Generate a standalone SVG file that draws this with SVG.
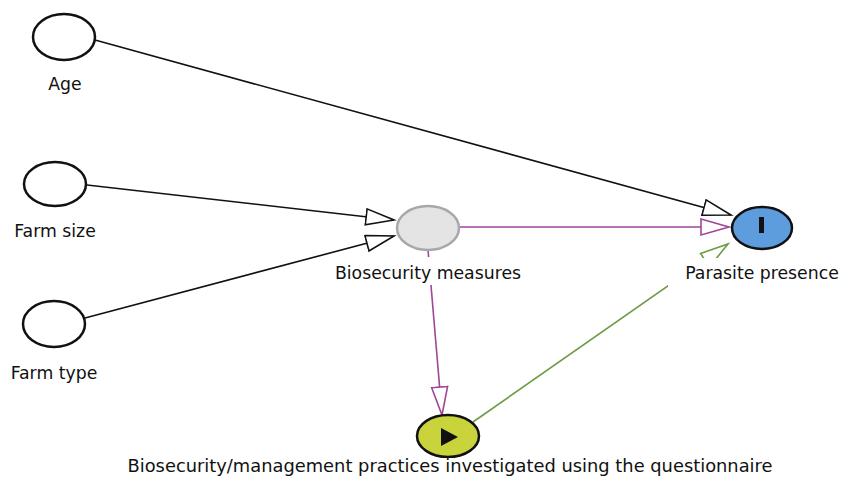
<svg xmlns="http://www.w3.org/2000/svg" width="841" height="498" viewBox="0 0 841 498">
<defs>
<style>
.lbl{font-family:"DejaVu Sans","Liberation Sans",sans-serif;font-size:17.3px;fill:#111;text-anchor:middle}
.bg{fill:#fff}
.node{stroke:#111;stroke-width:2.5}
.e{fill:none;stroke-width:1.6}
.blk{stroke:#111}
.pur{stroke:#a0459a}
.grn{stroke:#6f9a45}
</style>
<marker id="aBlk" markerUnits="userSpaceOnUse" markerWidth="32" markerHeight="20" refX="29" refY="9" orient="auto" viewBox="0 0 32 20">
<path d="M1,1 L29,9 L1,17 Z" fill="#fff" stroke="#111" stroke-width="1.6"/>
</marker>
<marker id="aPur" markerUnits="userSpaceOnUse" markerWidth="32" markerHeight="20" refX="29" refY="9" orient="auto" viewBox="0 0 32 20">
<path d="M1,1 L29,9 L1,17 Z" fill="#fff" stroke="#a0459a" stroke-width="1.6"/>
</marker>
<marker id="aGrn" markerUnits="userSpaceOnUse" markerWidth="32" markerHeight="20" refX="29" refY="9" orient="auto" viewBox="0 0 32 20">
<path d="M1,1 L29,9 L1,17 Z" fill="#fff" stroke="#6f9a45" stroke-width="1.6"/>
</marker>
</defs>
<rect width="841" height="498" fill="#fff"/>
<g id="connectors">
<path class="e blk" d="M95,40 L731,215" marker-end="url(#aBlk)"/>
<path class="e blk" d="M87,185 L394,220" marker-end="url(#aBlk)"/>
<path class="e blk" d="M85,318 L394,236" marker-end="url(#aBlk)"/>
<path class="e pur" d="M460,227 L729,227" marker-end="url(#aPur)"/>
<path class="e pur" d="M428,250 L442,415" marker-end="url(#aPur)"/>
<path class="e grn" d="M473,422 L728,244" marker-end="url(#aGrn)"/>
</g>
<g id="age">
<ellipse class="node" cx="64" cy="37" rx="31" ry="23" fill="#fff"/>
<text class="lbl" x="65" y="90">Age</text>
</g>
<g id="farm-size">
<ellipse class="node" cx="55" cy="184" rx="31" ry="22" fill="#fff"/>
<text class="lbl" x="55" y="237">Farm size</text>
</g>
<g id="farm-type">
<ellipse class="node" cx="54" cy="324" rx="31" ry="23" fill="#fff"/>
<text class="lbl" x="54" y="379">Farm type</text>
</g>
<g id="biosecurity">
<ellipse cx="428" cy="228" rx="31" ry="22" fill="#e4e4e4" stroke="#a8a8a8" stroke-width="2.5"/>
<rect class="bg" x="328" y="257" width="200" height="28"/>
<text class="lbl" x="428" y="279">Biosecurity measures</text>
</g>
<g id="parasite">
<ellipse class="node" cx="762" cy="228" rx="30" ry="21" fill="#5e9ddd"/>
<rect x="759" y="217" width="5" height="16" fill="#111"/>
<rect class="bg" x="668" y="258" width="173" height="29"/>
<text class="lbl" x="762" y="279">Parasite presence</text>
</g>
<g id="practices">
<ellipse class="node" cx="448" cy="436" rx="31" ry="21" fill="#c9d43c"/>
<path d="M441,428 L458,437 L441,446 Z" fill="#111"/>
<rect class="bg" x="120" y="458" width="660" height="24"/>
<text class="lbl" x="450" y="472" textLength="645" lengthAdjust="spacingAndGlyphs">Biosecurity/management practices investigated using the questionnaire</text>
</g>
</svg>
